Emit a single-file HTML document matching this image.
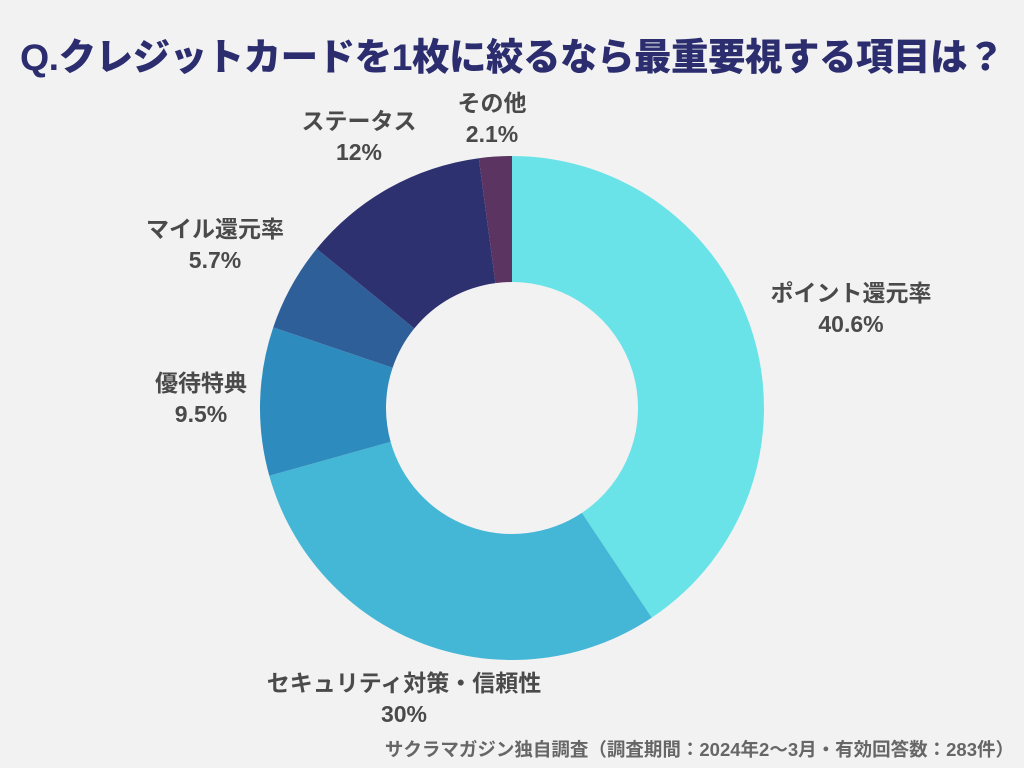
<!DOCTYPE html>
<html><head><meta charset="utf-8"><style>
html,body{margin:0;padding:0;background:#f2f2f2;width:1024px;height:768px;overflow:hidden}
.t{position:absolute;left:0;width:1024px;top:26px;text-align:center;font-family:"Liberation Sans","Noto Sans CJK JP",sans-serif;font-weight:900;font-size:37.5px;color:#2b2d6e;letter-spacing:-0.5px;white-space:nowrap}
.l{position:absolute;font-family:"Liberation Sans","Noto Sans CJK JP",sans-serif;font-weight:700;font-size:23px;color:#4a4a4a;text-align:center;line-height:31px;white-space:nowrap;transform:translateX(-50%)}
.f{position:absolute;right:10px;top:736px;font-family:"Liberation Sans","Noto Sans CJK JP",sans-serif;font-weight:700;font-size:18.5px;color:#666;white-space:nowrap}
</style></head><body>
<div class="t">Q.クレジットカードを1枚に絞るなら最重要視する項目は？</div>
<svg id="s" width="1024" height="768" style="position:absolute;left:0;top:0"></svg>
<div class="l" style="left:851px;top:278px">ポイント還元率<br>40.6%</div>
<div class="l" style="left:404px;top:668px">セキュリティ対策・信頼性<br>30%</div>
<div class="l" style="left:201px;top:368px">優待特典<br>9.5%</div>
<div class="l" style="left:215px;top:214px">マイル還元率<br>5.7%</div>
<div class="l" style="left:359px;top:106px">ステータス<br>12%</div>
<div class="l" style="left:492px;top:88px">その他<br>2.1%</div>
<div class="f">サクラマガジン独自調査（調査期間：2024年2～3月・有効回答数：283件）</div>
<script>
var d=[[40.6,"#6ae3e8"],[30,"#45b7d6"],[9.5,"#2e8bbd"],[5.7,"#2f5f99"],[12,"#2e3170"],[2.1,"#5b3462"]];
var cx=512,cy=408,R=252,r=126,tot=99.9,c=0,h="";
function p(a,rr){var t=a*2*Math.PI/tot;return [cx+rr*Math.sin(t),cy-rr*Math.cos(t)];}
d.forEach(function(s){var a0=c,a1=c+s[0];c=a1;var L=s[0]/tot>0.5?1:0;
var A=p(a0,R),B=p(a1,R),C=p(a1,r),D=p(a0,r);
h+='<path fill="'+s[1]+'" d="M'+A+' A'+R+','+R+' 0 '+L+' 1 '+B+' L'+C+' A'+r+','+r+' 0 '+L+' 0 '+D+' Z"/>';});
document.getElementById("s").innerHTML=h;
</script>
</body></html>
